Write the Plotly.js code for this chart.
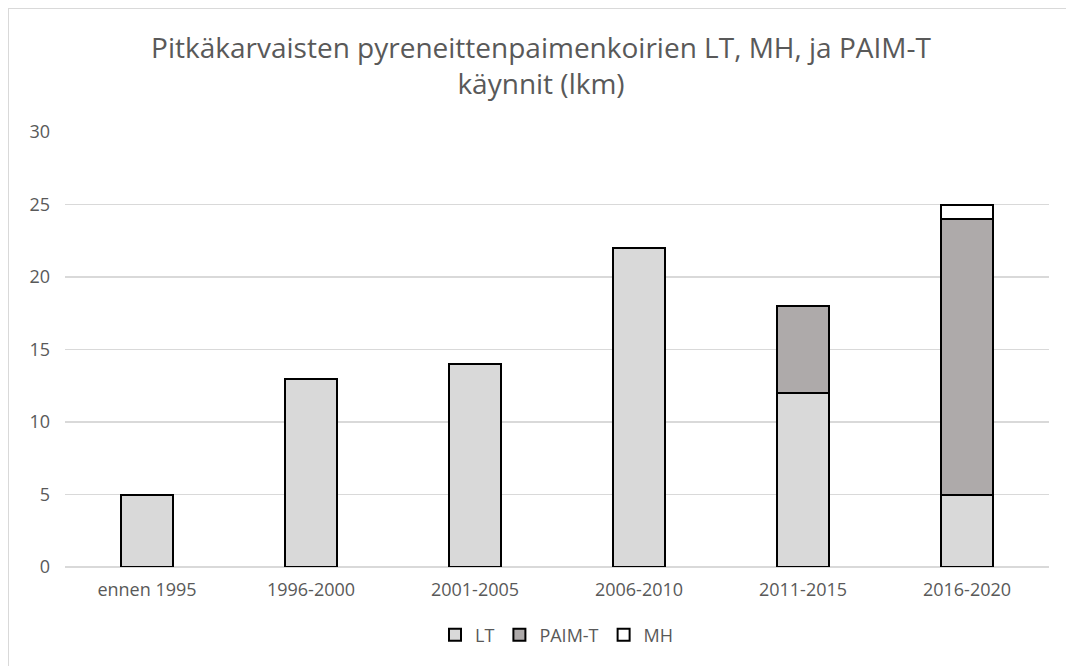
<!DOCTYPE html>
<html><head><meta charset="utf-8">
<script src="https://cdn.plot.ly/plotly-3.0.1.min.js"></script>
<style>
html,body{margin:0;padding:0;background:#fff;overflow:hidden;}
#frame{position:absolute;left:8px;top:8px;width:1200px;height:800px;border:1.5px solid #d9d9d9;box-sizing:border-box;pointer-events:none;z-index:5;}
#chart{position:absolute;left:0;top:0;width:1066px;height:666px;}
</style></head>
<body>
<div id="chart"></div>
<div id="frame"></div>
<script>
const categories = ["ennen 1995","1996-2000","2001-2005","2006-2010","2011-2015","2016-2020"];
const ltValues = [5,13,14,22,12,5];
const paimValues = [null,null,null,null,6,19];
const mhValues = [null,null,null,null,null,1];
const yTicks = [0,5,10,15,20,25,30];

const font = "Open Sans, Noto Sans, sans-serif";
const line = {color:"#000000", width:2};
const traces = [
  {type:"bar", name:"LT", x:categories, y:ltValues, marker:{color:"#d9d9d9", line:line}},
  {type:"bar", name:"PAIM-T", x:categories, y:paimValues, marker:{color:"#aeaaaa", line:line}},
  {type:"bar", name:"MH", x:categories, y:mhValues, marker:{color:"#ffffff", line:line}}
];
const layout = {
  width:1066, height:666,
  margin:{l:65, r:17, t:132, b:99},
  paper_bgcolor:"#ffffff", plot_bgcolor:"#ffffff",
  barmode:"stack", bargap:0.68,
  font:{family:font, color:"#595959", size:18},
  title:{text:"Pitkäkarvaisten pyreneittenpaimenkoirien LT, MH, ja PAIM-T<br>käynnit (lkm)", x:541/1066, xanchor:"center", xref:"container", y:1-58/666, yanchor:"middle", yref:"container", font:{family:font, size:28, color:"#595959"}},
  xaxis:{type:"category", showgrid:false, zeroline:false, showline:false, ticks:"", ticklabelstandoff:10, tickfont:{size:18, color:"#595959"}, automargin:false},
  yaxis:{range:[0,30], tickvals:yTicks, showgrid:true, gridcolor:"#d9d9d9", gridwidth:1.5, zeroline:true, zerolinecolor:"#d9d9d9", zerolinewidth:1.5, showline:false, ticks:"", ticklabelstandoff:14, tickfont:{size:18, color:"#595959"}, automargin:false},
  legend:{orientation:"h", traceorder:"normal", x:0.5, xanchor:"center", y:(567-635)/435, yanchor:"middle", font:{size:18, color:"#595959"}, itemwidth:30, tracegroupgap:0},
  showlegend:true
};
Plotly.newPlot("chart", traces, layout, {displayModeBar:false, staticPlot:true});
</script>
</body></html>
